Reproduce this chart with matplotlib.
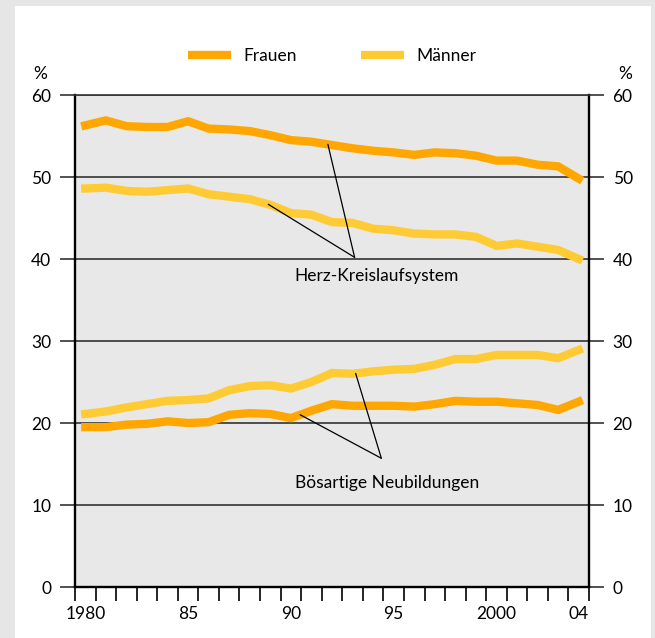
import matplotlib
matplotlib.use('Agg')
import matplotlib.pyplot as plt
from matplotlib.patches import Rectangle
import numpy as np

plt.rcParams['font.family'] = ['Lato', 'DejaVu Sans']

# Sterbefälle nach Todesursachen, Anteil in %
years = np.arange(1980, 2005)
hk_frauen = [56.3, 56.9, 56.2, 56.1, 56.1, 56.8, 55.9, 55.8, 55.6, 55.1,
             54.5, 54.3, 53.9, 53.5, 53.2, 53.0, 52.7, 53.0, 52.9, 52.6,
             52.0, 52.0, 51.5, 51.3, 49.8]
hk_maenner = [48.6, 48.7, 48.3, 48.2, 48.4, 48.6, 47.9, 47.6, 47.3, 46.6,
              45.6, 45.4, 44.5, 44.4, 43.7, 43.5, 43.1, 43.0, 43.0, 42.7,
              41.6, 41.9, 41.5, 41.1, 40.0]
bn_frauen = [19.5, 19.5, 19.8, 19.9, 20.2, 20.0, 20.1, 21.0, 21.2, 21.1,
             20.6, 21.5, 22.3, 22.1, 22.1, 22.1, 22.0, 22.3, 22.7, 22.6,
             22.6, 22.4, 22.2, 21.6, 22.6]
bn_maenner = [21.1, 21.4, 21.9, 22.3, 22.7, 22.8, 23.0, 24.0, 24.5, 24.6,
              24.2, 25.0, 26.1, 26.0, 26.3, 26.5, 26.6, 27.1, 27.8, 27.8,
              28.3, 28.3, 28.3, 27.9, 28.9]
tick_years = [1980, 1985, 1990, 1995, 2000, 2004]
tick_labels = ['1980', '85', '90', '95', '2000', '04']

c_frauen = '#FFA700'
c_maenner = '#FFCB35'
grid_c = '#333333'
fs = 12.5

fig = plt.figure(figsize=(6.55, 6.38), dpi=100)
fig.patch.set_facecolor('#e6e6e6')
fig.patches.append(Rectangle((15 / 655, 0), 636 / 655, 632 / 638,
                             transform=fig.transFigure, facecolor='white',
                             edgecolor='none', zorder=-5))

ax = fig.add_axes([75 / 655, 51 / 638, 514 / 655, 492 / 638])
ax.set_facecolor('#e8e8e8')

lw = 6
ax.plot(years, hk_frauen, color=c_frauen, lw=lw, solid_joinstyle='miter', zorder=3, label='Frauen')
ax.plot(years, hk_maenner, color=c_maenner, lw=lw, solid_joinstyle='miter', zorder=3, label='Männer')
ax.plot(years, bn_maenner, color=c_maenner, lw=lw, solid_joinstyle='miter', zorder=3)
ax.plot(years, bn_frauen, color=c_frauen, lw=lw, solid_joinstyle='miter', zorder=3)

ax.set_xlim(1979.5, 2004.5)
ax.set_ylim(0, 60)

# y axis on both sides, grid lines run into the tick marks
ax.set_yticks(range(0, 61, 10))
ax.yaxis.grid(True, color=grid_c, lw=1.2, zorder=1)
ax.set_axisbelow(True)
ax.tick_params(axis='y', left=True, right=True, labelleft=True, labelright=True,
               length=11, width=1.2, color=grid_c, pad=6, labelsize=fs)

# x axis: year boundaries as ticks, labels centred on years
ax.set_xticks(tick_years)
ax.set_xticklabels(tick_labels)
ax.set_xticks(np.arange(1979.5, 2005, 1), minor=True)
ax.tick_params(axis='x', which='major', length=0, pad=14, labelsize=fs)
ax.tick_params(axis='x', which='minor', length=10, width=1.2, color='black')

for side in ['left', 'right', 'bottom']:
    ax.spines[side].set_color('black')
    ax.spines[side].set_linewidth(1.7)
ax.spines['top'].set_color(grid_c)
ax.spines['top'].set_linewidth(1.2)

fig.text(40 / 655, 1 - 74 / 638, '%', ha='center', va='center', fontsize=fs)
fig.text(625 / 655, 1 - 74 / 638, '%', ha='center', va='center', fontsize=fs)

# callout lines to the curves
def callout(x_from, series, x_to, y_to):
    y_from = np.interp(x_from, years, series)
    ax.annotate('', xy=(x_from, y_from), xytext=(x_to, y_to),
                arrowprops=dict(arrowstyle='-', color='black', lw=0.9,
                                shrinkA=0, shrinkB=0), zorder=4)

callout(1991.8, hk_frauen, 1993.1, 40.2)
callout(1988.9, hk_maenner, 1993.1, 40.2)
ax.text(1994.15, 37.9, 'Herz-Kreislaufsystem', ha='center', va='center', fontsize=fs)

callout(1993.15, bn_maenner, 1994.4, 15.7)
callout(1990.45, bn_frauen, 1994.4, 15.7)
ax.text(1994.7, 12.7, 'Bösartige Neubildungen', ha='center', va='center', fontsize=fs)

leg = ax.legend(loc='center', bbox_to_anchor=(0.5, 1.0 + 39 / 492), ncol=2,
                frameon=False, fontsize=fs, handlelength=2.5,
                handletextpad=0.7, columnspacing=3.7)
for h in leg.get_lines():
    h.set_linewidth(6)
    h.set_solid_capstyle('butt')

fig.savefig('out.png', dpi=100, facecolor=fig.get_facecolor())
